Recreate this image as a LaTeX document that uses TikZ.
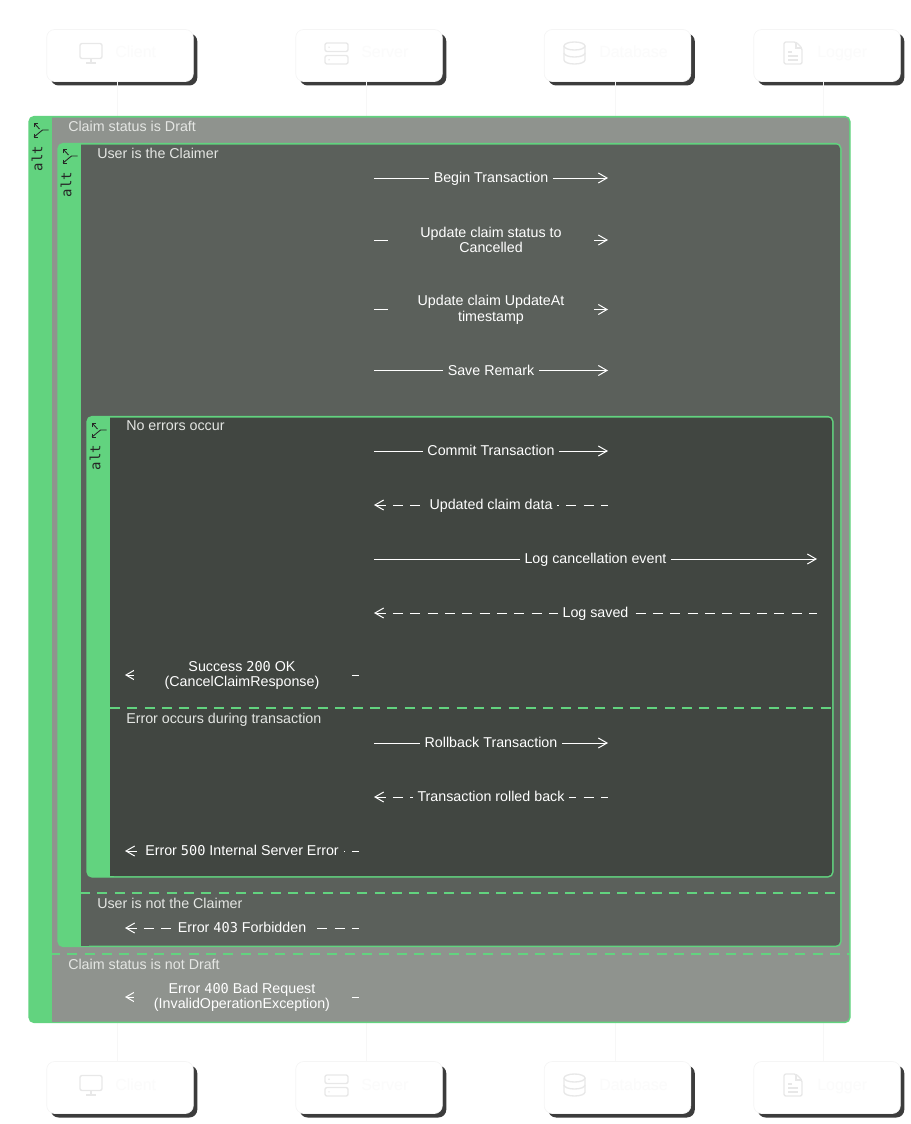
\documentclass[tikz,border=0pt]{standalone}
\usepackage{fontspec}
\setmainfont{Liberation Sans}
\setmonofont{DejaVu Sans Mono}
\usetikzlibrary{arrows.meta,shadows}
\definecolor{altgreen}{HTML}{62D37F}
\definecolor{panela}{HTML}{8F938E}
\definecolor{panelb}{HTML}{5B605B}
\definecolor{panelc}{HTML}{414641}
\definecolor{titlegray}{HTML}{E4E6E3}
\definecolor{icongray}{HTML}{E8E8E8}
\definecolor{shadowgray}{HTML}{3C3C3C}
\newcommand{\dg}[1]{{\ttfamily\fontsize{10.2}{11.5}\selectfont #1}}
\tikzset{
	actor/.style={fill=white, draw=black!4, line width=0.5pt, rounded corners=6pt, minimum width=110pt, minimum height=39pt, inner sep=0pt,
		general shadow={shadow xshift=3pt, shadow yshift=-3pt, fill=shadowgray}},
	actortext/.style={text=black!1.5, font=\fontsize{12}{14}\selectfont, anchor=base west, inner sep=0pt},
	icon/.style={draw=icongray, line width=1pt, rounded corners=1.5pt},
	lifeline/.style={draw=black!3, line width=0.75pt},
	altframe/.style={draw=altgreen, fill=altgreen, line width=1.1pt, rounded corners=4pt},
	elseline/.style={draw=altgreen, line width=1.1pt, dash pattern=on 7.5pt off 5.5pt},
	alttext/.style={text=black!85, font=\ttfamily\fontsize{10.5}{12}\selectfont, rotate=90, inner sep=0pt},
	branch/.style={draw=black!85, line width=0.65pt},
	title/.style={text=titlegray, font=\fontsize{10.7}{12.5}\selectfont, anchor=base west, inner sep=0pt},
	msg/.style={draw=white, line width=0.75pt, -{Straight Barb[length=6.5pt, width=7.5pt, line width=0.75pt]}},
	reply/.style={draw=white, line width=0.75pt, {Straight Barb[length=6.5pt, width=7.5pt, line width=0.75pt]}-, dash pattern=on 7.5pt off 5.5pt},
	lbltwo/.style={text=white, font=\fontsize{10.7}{11.5}\selectfont, align=center, inner xsep=3.6pt, inner ysep=1pt, yshift=-0.15pt},
	lbl/.style={lbltwo, text height=7.6pt, text depth=2.4pt, yshift=-0.85pt},
	pics/monitor/.style={code={
		\draw[icon] (-11,-9.5) rectangle (11,5.5);
		\draw[icon] (0,5.5) -- (0,10);
		\draw[icon] (-5,10) -- (5,10);
	}},
	pics/serverbox/.style={code={
		\draw[icon] (-11.5,-10.5) rectangle (11.5,-2);
		\draw[icon] (-11.5,2) rectangle (11.5,10.5);
		\fill[icongray] (-7.5,-6.3) circle (0.8);
		\fill[icongray] (-7.5,6.3) circle (0.8);
	}},
	pics/dbcan/.style={code={
		\draw[icongray, line width=1pt] (0,-7) ellipse (10.5 and 4);
		\draw[icongray, line width=1pt] (-10.5,-7) -- (-10.5,7) arc[start angle=180, end angle=0, x radius=10.5, y radius=4] -- (10.5,-7);
		\draw[icongray, line width=1pt] (-10.5,0) arc[start angle=180, end angle=0, x radius=10.5, y radius=4];
	}},
	pics/logfile/.style={code={
		\draw[icon] (-9,-11) -- (3,-11) -- (9,-5) -- (9,11) -- (-9,11) -- cycle;
		\draw[icongray, line width=1pt] (3,-11) -- (3,-5) -- (9,-5);
		\draw[icongray, line width=1pt] (-5,-1) -- (-1,-1);
		\draw[icongray, line width=1pt] (-5,3) -- (5,3);
		\draw[icongray, line width=1pt] (-5,7) -- (5,7);
	}},
	pics/altbranch/.style={code={
		\draw[branch] (8,0) -- (2,0) -- (-6.5,7);
		\draw[branch] (-1,-1) -- (-6,-6.5);
		\draw[branch] (-6.5,3.5) -- (-6.5,7) -- (-3,7);
		\draw[branch] (-6,-3) -- (-6,-6.5) -- (-2.5,-6.5);
	}},
}
\begin{document}
\begin{tikzpicture}[x=0.75pt, y=-0.75pt]
	\useasboundingbox (0,0) rectangle (910,1124);

	% actors, top and bottom row
	\node[actor] (clienttop) at (120,55.5) {};
	\node[actor] (servertop) at (369,55.5) {};
	\node[actor] (dbtop) at (617.5,55.5) {};
	\node[actor] (loggertop) at (827,55.5) {};
	\node[actor] (clientbot) at (120,1087.5) {};
	\node[actor] (serverbot) at (369,1087.5) {};
	\node[actor] (dbbot) at (617.5,1087.5) {};
	\node[actor] (loggerbot) at (827,1087.5) {};

	\node[actortext] (clienttoptext) at (115,58) {Client};
	\node[actortext] (servertoptext) at (361,58) {Server};
	\node[actortext] (dbtoptext) at (599,58) {Database};
	\node[actortext] (loggertoptext) at (817,58) {Logger};
	\node[actortext] (clientbottext) at (115,1090) {Client};
	\node[actortext] (serverbottext) at (361,1090) {Server};
	\node[actortext] (dbbottext) at (599,1090) {Database};
	\node[actortext] (loggerbottext) at (817,1090) {Logger};

	\pic at (91,53) {monitor};
	\pic at (336.5,53.5) {serverbox};
	\pic at (574.5,53) {dbcan};
	\pic at (793,53) {logfile};
	\pic at (91,1085) {monitor};
	\pic at (336.5,1085.5) {serverbox};
	\pic at (574.5,1085) {dbcan};
	\pic at (793,1085) {logfile};

	% lifelines
	\coordinate (clientline) at (117,81);
	\coordinate (serverline) at (366,81);
	\coordinate (dbline) at (615,81);
	\coordinate (loggerline) at (823,81);
	\draw[lifeline] (clientline) -- (clientline |- clientbot.north);
	\draw[lifeline] (serverline) -- (serverline |- serverbot.north);
	\draw[lifeline] (dbline) -- (dbline |- dbbot.north);
	\draw[lifeline] (loggerline) -- (loggerline |- loggerbot.north);

	% outer alt
	\draw[altframe] (29,116.5) rectangle (850,1022.5);
	\fill[panela, rounded corners=3pt] (52,117.5) -- (849,117.5) -- (849,1021.5) -- (52,1021.5) [sharp corners] -- cycle;
	\fill[panela] (52,117.5) rectangle (60,1021.5);
	\node[alttext] (altouter) at (37,158.5) {alt};
	\pic at (40.5,130) {altbranch};
	\node[title] (draft) at (68,132) {Claim status is Draft};
	\node[title] (notdraft) at (68,969) {Claim status is not Draft};

	% middle alt
	\draw[altframe] (58,143.5) rectangle (841,946.5);
	\fill[panelb, rounded corners=3pt] (81,144.5) -- (840,144.5) -- (840,945.5) -- (81,945.5) [sharp corners] -- cycle;
	\fill[panelb] (81,144.5) rectangle (89,945.5);
	\node[alttext] (altmiddle) at (66,184.5) {alt};
	\pic at (69.5,156) {altbranch};
	\node[title] (claimer) at (97,158) {User is the Claimer};
	\node[title] (notclaimer) at (97,908) {User is not the Claimer};

	% inner alt
	\draw[altframe] (87,416.5) rectangle (833,877);
	\fill[panelc, rounded corners=3pt] (110,417.5) -- (832,417.5) -- (832,876) -- (110,876) [sharp corners] -- cycle;
	\fill[panelc] (110,417.5) rectangle (118,876);
	\node[alttext] (altinner) at (95,457.5) {alt};
	\pic at (98.5,430) {altbranch};
	\node[title] (noerrors) at (126,430.5) {No errors occur};
	\node[title] (txerror) at (126,723) {Error occurs during transaction};

	% else separators
	\coordinate (elseaL) at (50,954);
	\coordinate (elseaR) at (850,954);
	\coordinate (elsebL) at (80,893);
	\coordinate (elsebR) at (841,893);
	\coordinate (elsecL) at (110,708);
	\coordinate (elsecR) at (833,708);
	\draw[elseline] (elseaL) -- (elseaR);
	\draw[elseline] (elsebL) -- (elsebR);
	\draw[elseline] (elsecL) -- (elsecR);

	% calls to the database and the logger
	\coordinate (s1) at (374,178);
	\coordinate (d1) at (608,178);
	\coordinate (s2) at (374,240);
	\coordinate (d2) at (608,240);
	\coordinate (s3) at (374,309.5);
	\coordinate (d3) at (608,309.5);
	\coordinate (s4) at (374,370.5);
	\coordinate (d4) at (608,370.5);
	\coordinate (s5) at (374,451);
	\coordinate (d5) at (608,451);
	\coordinate (s6) at (374,505);
	\coordinate (d6) at (608,505);
	\coordinate (s7) at (374,559);
	\coordinate (l7) at (817,559);
	\coordinate (s8) at (374,613);
	\coordinate (l8) at (817,613);
	\coordinate (s9) at (359,675);
	\coordinate (c9) at (125,675);
	\coordinate (s10) at (374,743);
	\coordinate (d10) at (608,743);
	\coordinate (s11) at (374,797);
	\coordinate (d11) at (608,797);
	\coordinate (s12) at (359,851);
	\coordinate (c12) at (125,851);
	\coordinate (s13) at (359,928);
	\coordinate (c13) at (125,928);
	\coordinate (s14) at (359,997);
	\coordinate (c14) at (125,997);

	\draw[msg] (s1) -- (d1) node[lbl, fill=panelb, midway] (begintx) {Begin Transaction};
	\draw[msg] (s2) -- (d2) node[lbltwo, fill=panelb, midway, minimum width=154.5pt] (cancelled) {Update claim status to\\Cancelled};
	\draw[msg] (s3) -- (d3) node[lbltwo, fill=panelb, midway, minimum width=154.5pt] (updateat) {Update claim UpdateAt\\timestamp};
	\draw[msg] (s4) -- (d4) node[lbl, fill=panelb, midway] (remark) {Save Remark};
	\draw[msg] (s5) -- (d5) node[lbl, fill=panelc, midway] (commit) {Commit Transaction};
	\draw[reply] (s6) -- (d6) node[lbl, fill=panelc, midway] (updated) {Updated claim data};
	\draw[msg] (s7) -- (l7) node[lbl, fill=panelc, midway] (logevent) {Log cancellation event};
	\draw[reply] (s8) -- (l8) node[lbl, fill=panelc, midway] (logsaved) {Log saved};
	\draw[reply] (c9) -- (s9) node[lbltwo, fill=panelc, midway, minimum width=162pt] (success) {Success \dg{200} OK\\(CancelClaimResponse)};
	\draw[msg] (s10) -- (d10) node[lbl, fill=panelc, midway] (rollback) {Rollback Transaction};
	\draw[reply] (s11) -- (d11) node[lbl, fill=panelc, midway] (rolledback) {Transaction rolled back};
	\draw[reply] (c12) -- (s12) node[lbl, fill=panelc, midway] (err500) {Error \dg{500} Internal Server Error};
	\draw[reply] (c13) -- (s13) node[lbl, fill=panelb, midway] (err403) {Error \dg{403} Forbidden};
	\draw[reply] (c14) -- (s14) node[lbltwo, fill=panela, midway, minimum width=162pt] (err400) {Error \dg{400} Bad Request\\(InvalidOperationException)};
\end{tikzpicture}
\end{document}
